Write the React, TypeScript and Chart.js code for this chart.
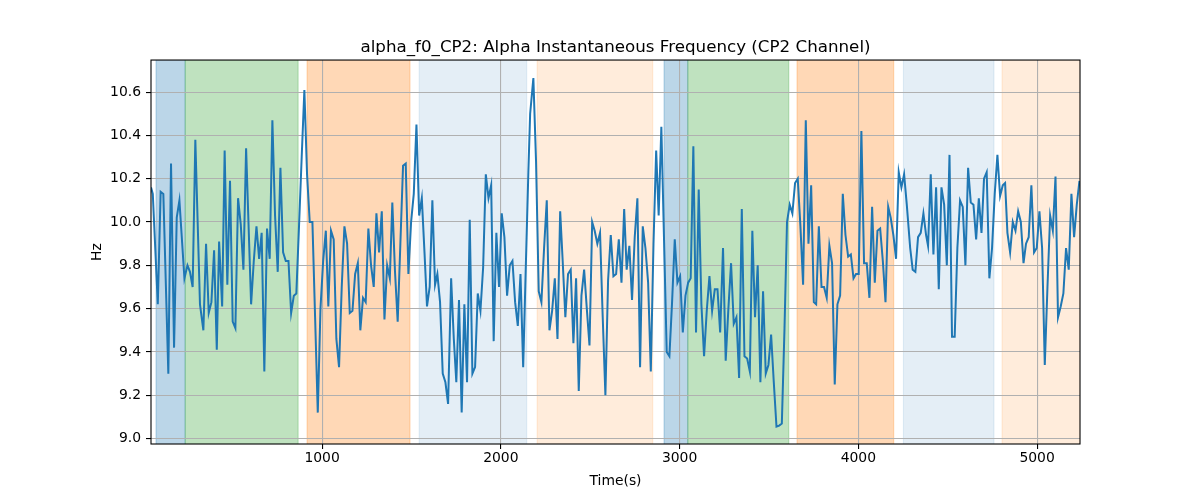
import { useEffect, useRef } from 'react';
import { Chart, registerables } from 'chart.js';

Chart.register(...registerables);

const TITLE = 'alpha_f0_CP2: Alpha Instantaneous Frequency (CP2 Channel)';
const X_LABEL = 'Time(s)';
const Y_LABEL = 'Hz';
const X_TICKS = [1000, 2000, 3000, 4000, 5000];
const Y_TICKS = [9.0, 9.2, 9.4, 9.6, 9.8, 10.0, 10.2, 10.4, 10.6];
const X_MIN = 43;
const X_MAX = 5240;
const Y_MIN = 8.975;
const Y_MAX = 10.748;

const TIMES = [
  43, 53, 81, 97, 112, 140, 155, 172, 187, 202, 230, 247, 261, 276, 291, 317, 336, 351, 366, 381,
  396, 411, 424, 441, 455, 470, 485, 500, 515, 530, 545, 560, 575,
  603, 618, 633, 648, 662, 677, 692, 707, 722, 737, 752, 767, 782, 797, 812, 827, 842, 856, 871,
  886, 901, 916, 931, 946, 961, 976, 991, 1006, 1021, 1035, 1050, 1065, 1080, 1095,
  1110, 1125, 1140, 1155, 1170, 1185, 1200, 1214, 1229, 1244, 1259, 1274, 1289, 1304, 1319, 1334,
  1349, 1364, 1379, 1393, 1408, 1423, 1438, 1453, 1468, 1483, 1498, 1513, 1528, 1543, 1558, 1573,
  1587, 1602, 1617, 1632,
  1645, 1660, 1675, 1690, 1705, 1722, 1737, 1751, 1766, 1781, 1796, 1811, 1826, 1841, 1856, 1871,
  1886, 1901, 1916, 1931, 1946, 1960, 1975, 1990, 2005, 2020, 2035, 2050, 2065, 2080, 2095, 2110,
  2125, 2139, 2154,
  2164, 2182, 2197, 2212, 2227, 2242, 2257, 2272, 2287, 2302, 2317, 2332, 2346, 2361, 2376, 2391,
  2406, 2421, 2436, 2451, 2466, 2481, 2496, 2511, 2525, 2540, 2555, 2570, 2585, 2600, 2615, 2630,
  2645, 2660, 2675, 2690,
  2704, 2719, 2734, 2749, 2764, 2779, 2794, 2809, 2824, 2839, 2854, 2869, 2883, 2898, 2913, 2928,
  2943, 2958, 2973, 2988, 3003, 3018, 3033, 3048, 3062, 3077, 3092, 3107, 3122, 3137, 3152, 3167,
  3182, 3197, 3212, 3227,
  3243, 3258, 3273, 3288, 3303, 3318, 3333, 3348, 3363, 3378, 3393, 3407, 3422, 3437, 3452, 3467,
  3482, 3497, 3512, 3527, 3542, 3557, 3572, 3587, 3601, 3616, 3631, 3646, 3661, 3676, 3691, 3706,
  3721, 3736, 3751,
  3764, 3779, 3794, 3808, 3823, 3838, 3853, 3868, 3883, 3898, 3913, 3928, 3943, 3958, 3973, 3987,
  4002, 4017, 4032, 4047, 4062, 4077, 4092, 4107, 4122, 4137, 4152, 4167, 4181, 4196, 4211, 4226,
  4241, 4256, 4271, 4290,
  4304, 4319, 4334, 4349, 4364, 4379, 4390, 4405, 4420, 4435, 4450, 4465, 4480, 4495, 4510, 4524,
  4539, 4554, 4569, 4584, 4599, 4614, 4629, 4644, 4659, 4674, 4689, 4703, 4718, 4733, 4748, 4763,
  4778, 4793, 4808, 4821,
  4834, 4849, 4864, 4879, 4894, 4909, 4924, 4938, 4953, 4968, 4983, 4998, 5013, 5028, 5043, 5058,
  5073, 5088, 5103, 5117, 5132, 5147, 5162, 5177, 5192, 5207, 5222, 5237,
];

const HZ = [
  10.16, 10.13, 9.62, 10.14, 10.13, 9.30, 10.27, 9.42, 10.02, 10.10, 9.74, 9.80, 9.77, 9.70, 10.38, 9.62, 9.50, 9.90, 9.58, 9.63,
  9.87, 9.41, 9.91, 9.61, 10.33, 9.71, 10.19, 9.54, 9.51, 10.11, 9.99, 9.78, 10.34,
  9.62, 9.82, 9.98, 9.83, 9.95, 9.31, 9.97, 9.83, 10.47, 10.03, 9.77, 10.25, 9.86, 9.82, 9.82, 9.58, 9.66, 9.67, 9.98,
  10.30, 10.61, 10.22, 10.00, 10.00, 9.56, 9.12, 9.60, 9.82, 9.96, 9.61, 9.96, 9.92, 9.46, 9.33,
  9.70, 9.98, 9.90, 9.58, 9.59, 9.76, 9.81, 9.50, 9.65, 9.63, 9.97, 9.80, 9.70, 10.04, 9.86, 10.05,
  9.55, 9.80, 9.74, 10.09, 9.77, 9.54, 9.90, 10.26, 10.27, 9.76, 10.00, 10.13, 10.45, 10.03, 10.11, 9.86,
  9.61, 9.70, 10.10, 9.71,
  9.76, 9.63, 9.30, 9.26, 9.16, 9.74, 9.46, 9.26, 9.64, 9.12, 9.62, 9.26, 10.01, 9.30, 9.33, 9.67,
  9.59, 9.79, 10.22, 10.11, 10.17, 9.45, 9.95, 9.70, 10.04, 9.93, 9.66, 9.80, 9.82, 9.63, 9.52, 9.76,
  9.33, 9.77, 10.23,
  10.50, 10.665, 10.28, 9.68, 9.63, 9.88, 10.10, 9.50, 9.59, 9.74, 9.46, 10.05, 9.82, 9.56, 9.76, 9.78,
  9.44, 9.74, 9.22, 9.66, 9.78, 9.60, 9.43, 10.00, 9.96, 9.90, 9.95, 9.56, 9.20, 9.73, 9.94, 9.75,
  9.76, 9.92, 9.72, 10.06,
  9.78, 9.89, 9.64, 9.93, 10.11, 9.33, 9.98, 9.88, 9.72, 9.31, 9.90, 10.33, 10.03, 10.44, 9.92, 9.40,
  9.38, 9.63, 9.92, 9.72, 9.75, 9.49, 9.66, 9.72, 9.74, 10.35, 9.49, 10.15, 9.62, 9.38, 9.59, 9.75,
  9.59, 9.69, 9.69, 9.49,
  9.88, 9.36, 9.60, 9.81, 9.53, 9.56, 9.28, 10.06, 9.38, 9.37, 9.31, 9.96, 9.56, 9.80, 9.26, 9.68,
  9.30, 9.34, 9.48, 9.26, 9.055, 9.06, 9.07, 9.51, 10.00, 10.08, 10.04, 10.18, 10.20, 9.98, 9.71, 10.47,
  9.90, 10.17, 9.63,
  9.62, 9.98, 9.70, 9.70, 9.65, 9.89, 9.81, 9.25, 9.62, 9.66, 10.13, 9.94, 9.84, 9.85, 9.74, 9.76,
  9.76, 10.42, 9.81, 9.81, 9.65, 10.07, 9.72, 9.96, 9.97, 9.82, 9.63, 10.07, 10.02, 9.94, 9.83, 10.23,
  10.16, 10.22, 10.08, 9.88,
  9.78, 9.77, 9.93, 9.95, 10.04, 9.94, 9.89, 10.22, 9.85, 10.16, 9.69, 10.16, 10.08, 9.80, 10.31, 9.47,
  9.47, 9.88, 10.10, 10.07, 9.80, 10.25, 10.09, 10.08, 9.92, 10.11, 9.95, 10.20, 10.23, 9.74, 9.88, 10.13,
  10.31, 10.12, 10.17, 10.18,
  9.95, 9.86, 10.00, 9.96, 10.05, 10.00, 9.81, 9.90, 9.93, 10.17, 9.86, 9.88, 10.05, 9.88, 9.34, 9.70,
  10.03, 9.96, 10.21, 9.56, 9.61, 9.67, 9.88, 9.78, 10.13, 9.93, 10.08, 10.19,
];

// shaded epochs (seconds)
const BAND_STARTS = [71, 234, 916, 1543, 2203, 2913, 3046, 3657, 4252, 4804];
const BAND_ENDS = [234, 866, 1492, 2145, 2850, 3046, 3611, 4198, 4759, 5300];
const BAND_COLORS = [
  'rgba(31,119,180,0.3)',
  'rgba(44,160,44,0.3)',
  'rgba(255,127,14,0.3)',
  'rgba(31,119,180,0.12)',
  'rgba(255,127,14,0.15)',
  'rgba(31,119,180,0.3)',
  'rgba(44,160,44,0.3)',
  'rgba(255,127,14,0.3)',
  'rgba(31,119,180,0.12)',
  'rgba(255,127,14,0.15)',
];

const FONT = 'DejaVu Sans';

const bandPlugin = {
  id: 'bands',
  beforeDraw(chart: any) {
    const { ctx, chartArea, scales } = chart;
    const xs = scales.x;
    ctx.save();
    ctx.beginPath();
    ctx.rect(chartArea.left, chartArea.top, chartArea.right - chartArea.left, chartArea.bottom - chartArea.top);
    ctx.clip();
    for (let i = 0; i < BAND_STARTS.length; i++) {
      const x0 = xs.getPixelForValue(BAND_STARTS[i]);
      const x1 = xs.getPixelForValue(BAND_ENDS[i]);
      ctx.fillStyle = BAND_COLORS[i];
      ctx.fillRect(x0, chartArea.top, x1 - x0, chartArea.bottom - chartArea.top);
      ctx.strokeStyle = BAND_COLORS[i];
      ctx.lineWidth = 1;
      ctx.beginPath();
      ctx.moveTo(x0, chartArea.top);
      ctx.lineTo(x0, chartArea.bottom);
      ctx.moveTo(x1, chartArea.top);
      ctx.lineTo(x1, chartArea.bottom);
      ctx.stroke();
    }
    ctx.restore();
  },
};

const framePlugin = {
  id: 'frame',
  afterDraw(chart: any) {
    const { ctx, chartArea } = chart;
    ctx.save();
    ctx.strokeStyle = '#000';
    ctx.lineWidth = 1.1;
    ctx.strokeRect(chartArea.left, chartArea.top, chartArea.right - chartArea.left, chartArea.bottom - chartArea.top);
    ctx.restore();
  },
};

export default function App() {
  const ref = useRef<HTMLCanvasElement | null>(null);

  useEffect(() => {
    if (!ref.current) return;
    const points = TIMES.map((t, i) => ({ x: t, y: HZ[i] }));
    const chart = new Chart(ref.current, {
      type: 'line',
      data: {
        datasets: [
          {
            data: points,
            borderColor: '#1f77b4',
            borderWidth: 2,
            pointRadius: 0,
            tension: 0,
            fill: false,
          },
        ],
      },
      options: {
        animation: false,
        responsive: false,
        maintainAspectRatio: false,
        layout: { padding: { left: 0, right: 120, top: 0, bottom: 0 } },
        plugins: {
          legend: { display: false },
          tooltip: { enabled: false },
          title: {
            display: true,
            text: TITLE,
            fullSize: false,
            color: '#000',
            font: { family: FONT, size: 16.7, weight: 'normal', lineHeight: 1.2 },
            padding: { top: 38, bottom: 2 },
          },
        },
        scales: {
          x: {
            type: 'linear',
            min: X_MIN,
            max: X_MAX,
            afterBuildTicks: (s: any) => {
              s.ticks = X_TICKS.map((v) => ({ value: v }));
            },
            afterFit: (s: any) => {
              s.height = 56;
            },
            ticks: {
              color: '#000',
              font: { family: FONT, size: 13.9 },
              padding: 1,
              maxRotation: 0,
              autoSkip: false,
              callback: (v: any) => String(v),
            },
            grid: { color: '#b0b0b0', lineWidth: 1.1, tickColor: '#000', tickLength: 5, tickWidth: 1.1 },
            border: { display: false },
            title: {
              display: true,
              text: X_LABEL,
              color: '#000',
              font: { family: FONT, size: 13.9, lineHeight: 1.2 },
              padding: { top: 0, bottom: 10 },
            },
          },
          y: {
            type: 'linear',
            min: Y_MIN,
            max: Y_MAX,
            afterBuildTicks: (s: any) => {
              s.ticks = Y_TICKS.map((v) => ({ value: v }));
            },
            afterFit: (s: any) => {
              s.width = 151;
            },
            ticks: {
              color: '#000',
              font: { family: FONT, size: 13.9 },
              padding: 5,
              autoSkip: false,
              callback: (v: any) => Number(v).toFixed(1),
            },
            grid: { color: '#b0b0b0', lineWidth: 1.1, tickColor: '#000', tickLength: 5, tickWidth: 1.1 },
            border: { display: false },
            title: {
              display: true,
              text: Y_LABEL,
              color: '#000',
              font: { family: FONT, size: 13.9, lineHeight: 1.2 },
              padding: { top: 88.7, bottom: 0 },
            },
          },
        },
      },
      plugins: [bandPlugin, framePlugin],
    });
    return () => chart.destroy();
  }, []);

  return (
    <div style={{ position: 'fixed', left: 0, top: 0, width: 1200, height: 500, background: '#fff' }}>
      <canvas ref={ref} width={1200} height={500} style={{ display: 'block' }} />
    </div>
  );
}
